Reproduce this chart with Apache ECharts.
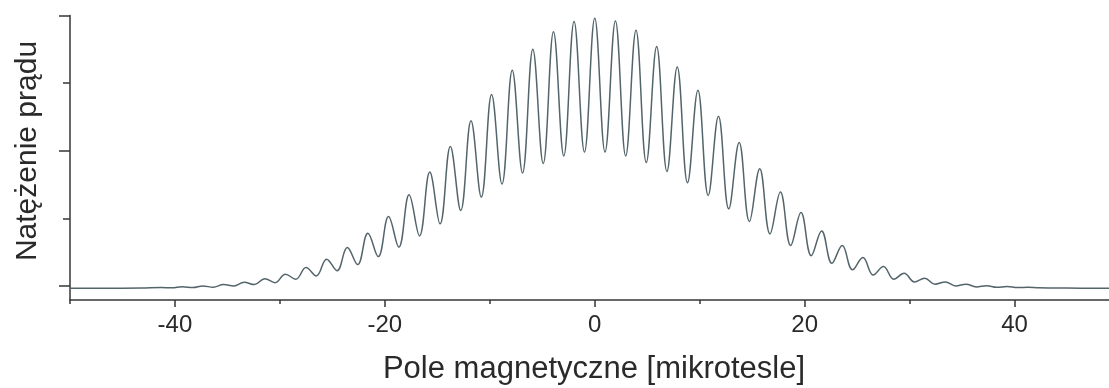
<!DOCTYPE html>
<html>
<head>
<meta charset="utf-8">
<script src="https://cdn.jsdelivr.net/npm/echarts@6/dist/echarts.min.js"></script>
<style>
  html, body { margin: 0; padding: 0; background: #fff; }
  #chart { width: 1109px; height: 388px; }
</style>
</head>
<body>
<div id="chart"></div>
<script>
// pole magnetyczne (µT) - odczytane pozycje maksimów i minimów
var fieldX = [
  -50, -45, -43.2, -41.3, -40.3, -39.3, -38.3,
  -37.34, -36.36, -35.37, -34.39, -33.41, -32.42, -31.44, -30.46,
  -29.48, -28.49, -27.51, -26.53, -25.55, -24.56, -23.58, -22.6,
  -21.62, -20.63, -19.65, -18.67, -17.69, -16.7, -15.72, -14.74,
  -13.76, -12.77, -11.79, -10.81, -9.83, -8.84, -7.86, -6.88,
  -5.9, -4.91, -3.93, -2.95, -1.97, -0.98,
  0,
  0.98, 1.97, 2.95, 3.93, 4.91, 5.9,
  6.88, 7.86, 8.84, 9.83, 10.81, 11.79, 12.77, 13.76,
  14.74, 15.72, 16.7, 17.69, 18.67, 19.65, 20.63, 21.62,
  22.6, 23.58, 24.56, 25.55, 26.53, 27.51, 28.49, 29.48,
  30.46, 31.44, 32.42, 33.41, 34.39, 35.37, 36.36, 37.34,
  38.3, 39.3, 40.3, 41.3, 42.3, 45, 49
];

// natężenie prądu (jednostki umowne)
var current = [
  -0.017, -0.017, -0.016, -0.012, -0.014, -0.006, -0.012,
  0.0, -0.01, 0.01, 0.0, 0.027, 0.01, 0.054, 0.024,
  0.087, 0.05, 0.136, 0.074, 0.198, 0.113, 0.284, 0.158,
  0.39, 0.217, 0.513, 0.287, 0.674, 0.37, 0.842, 0.459,
  1.032, 0.558, 1.222, 0.657, 1.415, 0.753, 1.595, 0.835,
  1.75, 0.906, 1.88, 0.961, 1.955, 0.99,
  1.98,
  0.99, 1.96, 0.961, 1.89, 0.913, 1.77,
  0.847, 1.62, 0.763, 1.447, 0.669, 1.254, 0.57, 1.061,
  0.476, 0.867, 0.385, 0.694, 0.299, 0.543, 0.224, 0.407,
  0.168, 0.299, 0.119, 0.21, 0.081, 0.143, 0.05, 0.094,
  0.03, 0.057, 0.013, 0.03, 0.0, 0.013, -0.007, 0.002,
  -0.01, -0.004, -0.012, -0.01, -0.014, -0.016, -0.017
];

var xMajorTicks = [-40, -20, 0, 20, 40];
var xMinorTicks = [-50, -30, -10, 10, 30];
var yMajorTicks = [0, 1, 2];
var yMinorTicks = [0.5, 1.5];

var points = [];
for (var i = 0; i < fieldX.length; i++) {
  points.push([fieldX[i], current[i]]);
}

var axisColor = '#363636';
var textColor = '#2a2a2a';
var fontFamily = '"Liberation Sans", Arial, sans-serif';

var chart = echarts.init(document.getElementById('chart'), null, { renderer: 'canvas' });

var option = {
  animation: false,
  backgroundColor: '#fff',
  grid: { left: 70, right: 0, top: 15.5, bottom: 88, containLabel: false },
  xAxis: [
    {
      type: 'value',
      position: 'bottom',
      min: -50,
      max: 49,
      axisLine: { show: true, onZero: false, lineStyle: { color: axisColor, width: 1.5 } },
      axisTick: { show: true, customValues: xMajorTicks, length: 7, lineStyle: { color: axisColor, width: 1.5 } },
      axisLabel: {
        show: true, customValues: xMajorTicks, margin: 13,
        fontSize: 24, color: textColor, fontFamily: fontFamily
      },
      splitLine: { show: false }
    },
    {
      type: 'value',
      position: 'bottom',
      min: -50,
      max: 49,
      axisLine: { show: false, onZero: false },
      axisTick: { show: true, customValues: xMinorTicks, length: 4, lineStyle: { color: axisColor, width: 1.5 } },
      axisLabel: { show: false },
      splitLine: { show: false }
    }
  ],
  yAxis: [
    {
      type: 'value',
      position: 'left',
      min: -0.104,
      max: 2,
      axisLine: { show: true, onZero: false, lineStyle: { color: axisColor, width: 1.5 } },
      axisTick: { show: true, customValues: yMajorTicks, length: 11, lineStyle: { color: axisColor, width: 1.5 } },
      axisLabel: { show: false },
      splitLine: { show: false }
    },
    {
      type: 'value',
      position: 'left',
      min: -0.104,
      max: 2,
      axisLine: { show: false, onZero: false },
      axisTick: { show: true, customValues: yMinorTicks, length: 7, lineStyle: { color: axisColor, width: 1.5 } },
      axisLabel: { show: false },
      splitLine: { show: false }
    }
  ],
  graphic: [
    {
      type: 'text',
      x: 28,
      y: 151,
      rotation: Math.PI / 2,
      style: {
        text: 'Natężenie prądu',
        font: '30px ' + fontFamily,
        fill: textColor,
        align: 'center',
        verticalAlign: 'middle'
      }
    },
    {
      type: 'text',
      x: 594,
      y: 369,
      style: {
        text: 'Pole magnetyczne [mikrotesle]',
        font: '31px ' + fontFamily,
        fill: textColor,
        align: 'center',
        verticalAlign: 'middle'
      }
    }
  ],
  series: [
    {
      name: 'Natężenie',
      type: 'line',
      xAxisIndex: 0,
      yAxisIndex: 0,
      data: points,
      showSymbol: false,
      smooth: 0.4,
      lineStyle: { color: '#53656b', width: 1.5 }
    }
  ]
};

chart.setOption(option);
</script>
</body>
</html>
